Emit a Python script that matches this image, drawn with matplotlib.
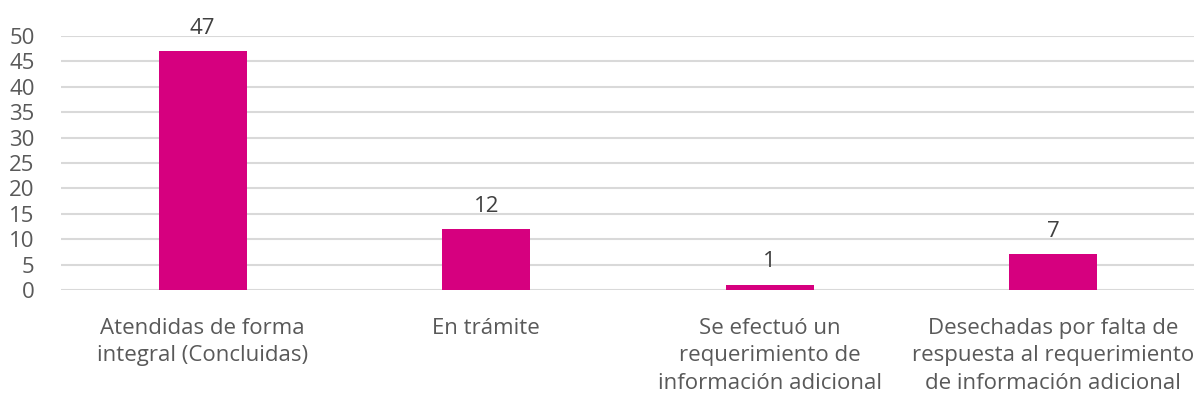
import matplotlib.pyplot as plt

categories = ['Atendidas de forma\nintegral (Concluidas)',
              'En trámite',
              'Se efectuó un\nrequerimiento de\ninformación adicional',
              'Desechadas por falta de\nrespuesta al requerimiento\nde información adicional']
values = [47, 12, 1, 7]
yticks = [0, 5, 10, 15, 20, 25, 30, 35, 40, 45, 50]

plt.rcParams['font.family'] = ['Open Sans', 'DejaVu Sans']
text_color = '#595959'

fig = plt.figure(figsize=(11.94, 4.01), dpi=100)
ax = fig.add_axes([61 / 1194, 1 - 290 / 401, (1195 - 61) / 1194, 254 / 401])

x = range(len(values))
ax.bar(x, values, width=0.31, color='#D6007F', zorder=3)
for xi, v in zip(x, values):
    ax.annotate(str(v), (xi, v), xytext=(0, 9), textcoords='offset points',
                ha='center', va='bottom', fontsize=16, color='#404040')

ax.set_xlim(-0.5, len(values) - 0.5)
ax.set_ylim(0, 50)
ax.set_yticks(yticks)
ax.set_xticks(list(x))
ax.set_xticklabels(categories, fontsize=16, color=text_color, linespacing=1.4)
ax.tick_params(axis='y', labelsize=16, labelcolor=text_color, length=0, pad=19)
ax.tick_params(axis='x', length=0, pad=20)
ax.yaxis.grid(True, color='#D9D9D9', linewidth=1.5, zorder=0)
for s in ax.spines.values():
    s.set_visible(False)

fig.savefig('out.png', dpi=100)
